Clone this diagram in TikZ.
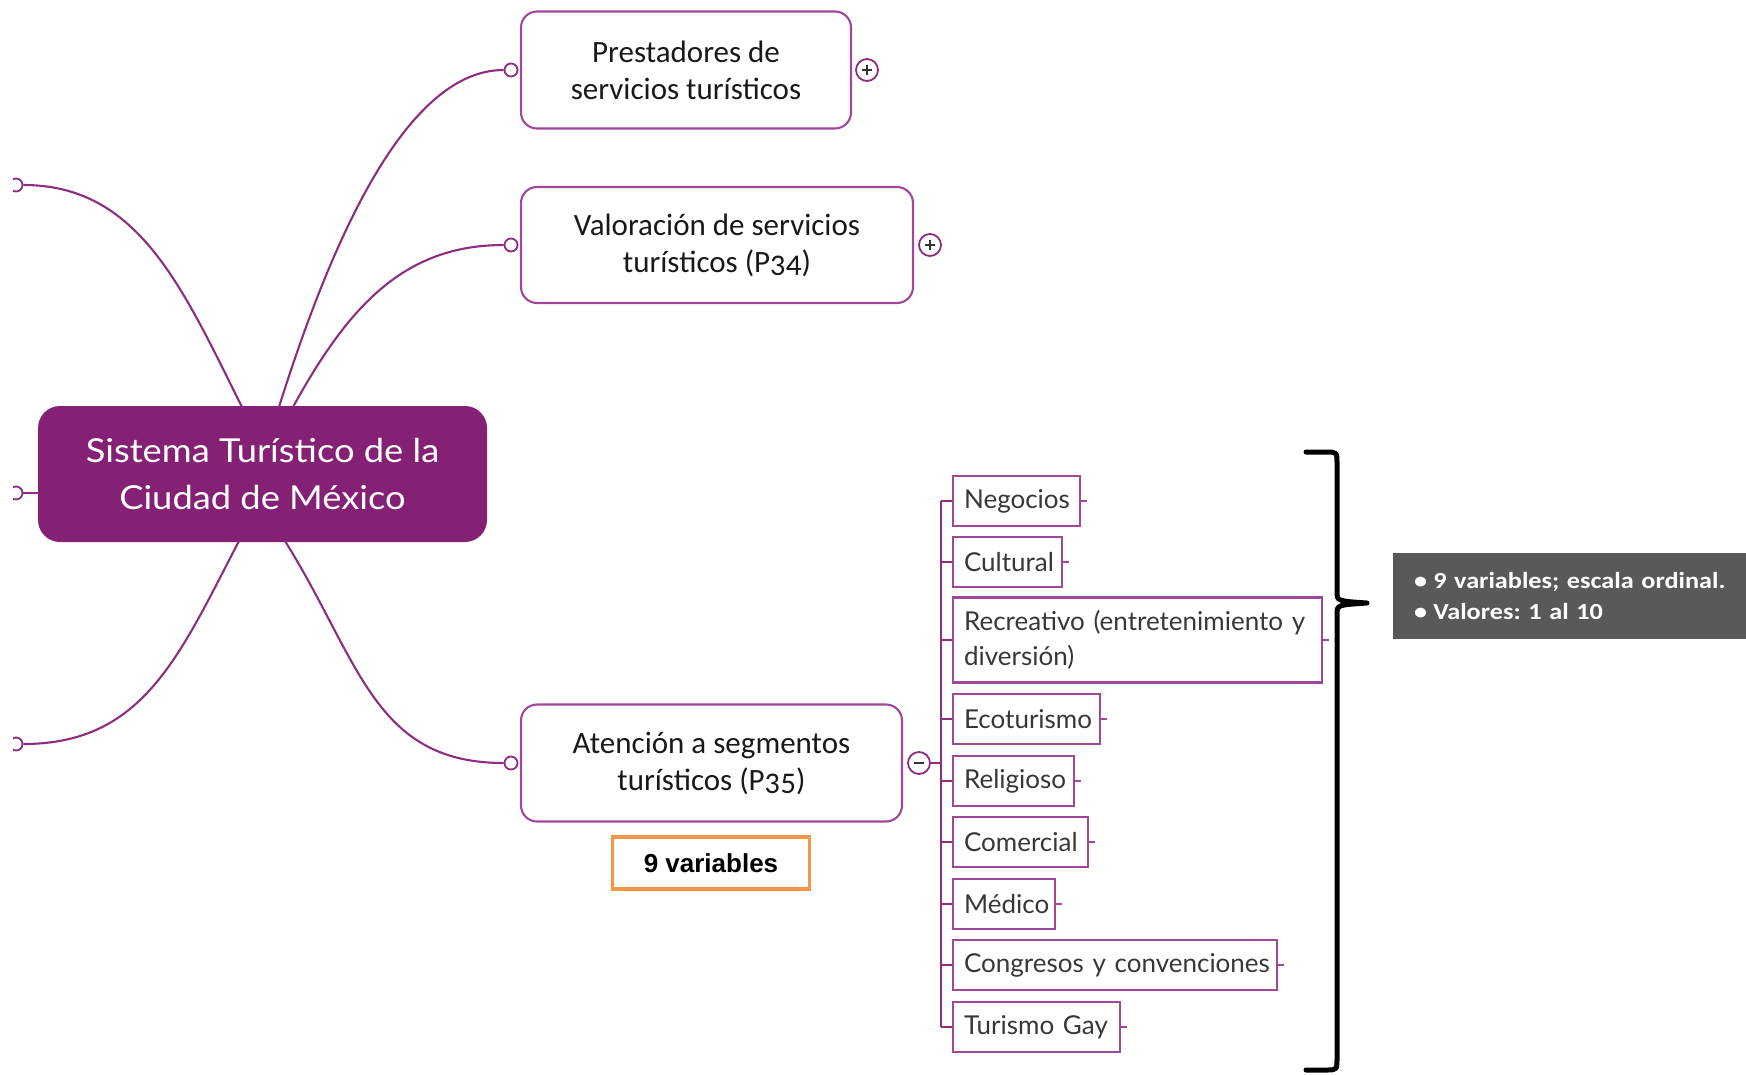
\documentclass[tikz,border=0pt]{standalone}
\usepackage{fontspec}
\setmainfont{Carlito}
\newfontfamily\latof{Lato}
\newfontfamily\rootf{Lato}[FakeStretch=1.1]
\newfontfamily\notef{Carlito}[FakeStretch=1.14]
\newfontfamily\arialf{Liberation Sans}
\definecolor{rootc}{RGB}{133,33,117}
\definecolor{boxc}{RGB}{160,70,155}
\definecolor{linec}{RGB}{140,45,130}
\definecolor{leaftext}{RGB}{55,55,55}
\definecolor{orangec}{RGB}{247,150,70}
\definecolor{greyc}{RGB}{89,89,89}
\begin{document}
\frenchspacing
\begin{tikzpicture}[x=1pt,y=-1pt,
  topic/.style={draw=boxc, line width=2.1pt, rounded corners=16pt, fill=white, align=center,
     font=\addfontfeatures{Numbers=OldStyle}\fontsize{31}{37}\selectfont, inner sep=0pt, text=black!90},
  root/.style={fill=rootc, rounded corners=22pt, text=white, align=center,
     font=\rootf\fontsize{33}{47}\selectfont, inner sep=0pt},
  leaf/.style={draw=boxc, line width=2.1pt, anchor=west, align=left, text=leaftext,
     font=\latof\fontsize{26}{35}\selectfont, inner xsep=11pt, inner ysep=0pt, minimum height=50pt},
  conn/.style={draw=linec, line width=2.1pt},
  dot/.style={circle, draw=linec, fill=white, line width=1.8pt, minimum size=13pt, inner sep=0pt},
  pm/.style={circle, draw=linec, fill=white, line width=1.8pt, minimum size=22pt, inner sep=0pt},
  sign/.style={draw=black!80, line width=1.8pt}
]
\useasboundingbox (0,0) rectangle (1746,1074);

% central node
\node[root, minimum width=449pt, minimum height=136pt] (root) at (262.5,474) {Sistema Turístico de la\\Ciudad de México};

% main topics
\node[topic, minimum width=330pt, minimum height=117pt] (pre) at (686,70) {Prestadores de\\servicios turísticos};
\node[topic, minimum width=392pt, minimum height=116pt] (val) at (717,245) {Valoración de servicios\\turísticos (P34)};
\node[topic, minimum width=381pt, minimum height=117pt] (ate) at (711.5,763) {Atención a segmentos\\turísticos (P35)};

% connector anchors on central node
\coordinate (r1) at (242,407);
\coordinate (r2) at (279,407);
\coordinate (r3) at (293,407);
\coordinate (r4) at (239,541);
\coordinate (r5) at (285,541);
\coordinate (r6) at (39,493);

% small circles
\node[dot] (cpre) at (511,70) {};
\node[dot] (cval) at (511,245) {};
\node[dot] (cate) at (511,763) {};
\begin{scope}
\clip (13,0) rectangle (1746,1074);
\node[dot] (l1) at (16,185) {};
\node[dot] (l2) at (16,493) {};
\node[dot] (l3) at (16,744) {};
\end{scope}

% curves
\draw[conn] (r2) .. controls +(55,-175) and +(-95,0) .. (cpre.west);
\draw[conn] (r3) .. controls +(55,-100) and +(-100,0) .. (cval.west);
\draw[conn] (r1) .. controls +(-60,-120) and +(115,0) .. (l1.east);
\draw[conn] (r6) -- (l2.east);
\draw[conn] (r4) .. controls +(-60,115) and +(120,0) .. (l3.east);
\draw[conn] (r5) .. controls +(75,120) and +(-130,0) .. (cate.west);

% plus / minus
\node[pm] (ppre) at (867,70) {};
\draw[sign] ([xshift=-5pt]ppre.center) -- ([xshift=5pt]ppre.center);
\draw[sign] ([yshift=-5pt]ppre.center) -- ([yshift=5pt]ppre.center);
\node[pm] (pval) at (930,245) {};
\draw[sign] ([xshift=-5pt]pval.center) -- ([xshift=5pt]pval.center);
\draw[sign] ([yshift=-5pt]pval.center) -- ([yshift=5pt]pval.center);
\node[pm] (mate) at (919,763) {};
\draw[sign] ([xshift=-5pt]mate.center) -- ([xshift=5pt]mate.center);

% 9 variables
\node[draw=orangec, line width=3.5pt, minimum width=197pt, minimum height=52pt, inner sep=0pt,
  font=\arialf\bfseries\fontsize{26}{30}\selectfont] (nv) at (711,863) {9 variables};

% leaves
\node[leaf, text width=105pt] (n1) at (952,501) {\mbox{Negocios}};
\node[leaf, text width=87pt] (n2) at (952,562) {\mbox{Cultural}};
\node[leaf, text width=347pt, minimum height=85pt] (n3) at (952,640) {\mbox{Recreativo (entretenimiento y}\\diversión)};
\node[leaf, text width=125pt] (n4) at (952,719) {\mbox{Ecoturismo}};
\node[leaf, text width=99pt] (n5) at (952,781) {\mbox{Religioso}};
\node[leaf, text width=113pt] (n6) at (952,842) {\mbox{Comercial}};
\node[leaf, text width=80pt] (n7) at (952,904) {\mbox{Médico}};
\node[leaf, text width=302pt] (n8) at (952,965) {\mbox{Congresos y convenciones}};
\node[leaf, text width=145pt] (n9) at (952,1027) {\mbox{Turismo Gay}};

\coordinate (vt) at (941,501);
\coordinate (vb) at (941,1027);
\draw[conn] (vt) -- (vb);
\draw[conn] (mate.east) -- (mate.east -| vt);
\foreach \n in {n1,n2,n3,n4,n5,n6,n7,n8,n9}{
  \draw[conn] (\n.west -| vt) -- (\n.west);
  \draw[draw=boxc, line width=1.6pt] (\n.east) -- ++(6,0);
}

% brace
\draw[line width=5pt, line join=round, line cap=round]
  (1306,452) -- (1326,452) .. controls (1337,452) .. (1337,464) -- (1337,592)
  .. controls (1337,601) .. (1367,603)
  .. controls (1337,605) .. (1337,614) -- (1337,1058)
  .. controls (1337,1070) .. (1326,1070) -- (1306,1070);

% grey note
\node[fill=greyc, anchor=north west, minimum width=353pt, minimum height=86pt, inner xsep=21pt,
  align=left, text=white, font=\notef\bfseries\fontsize{23}{31}\selectfont, text width=311pt] (note) at (1393,553)
  {\mbox{•\hspace{6pt}9 variables; escala ordinal.}\\\mbox{•\hspace{6pt}Valores: 1 al 10}};
\end{tikzpicture}
\end{document}
